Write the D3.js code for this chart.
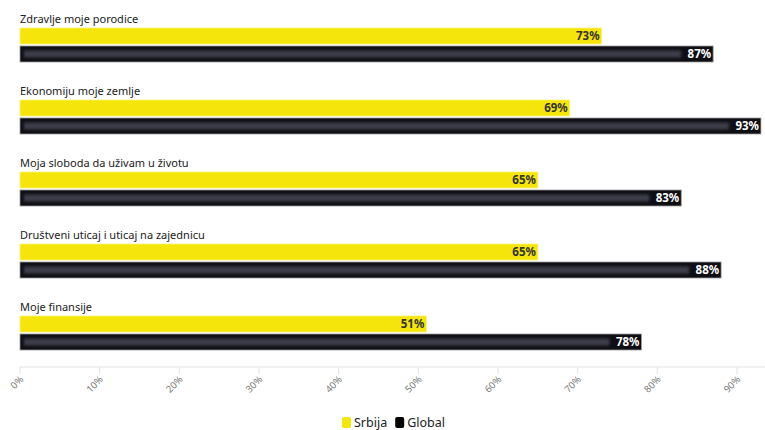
<!DOCTYPE html>
<html><head><meta charset="utf-8">
<script src="https://cdn.jsdelivr.net/npm/d3@7"></script>
<style>body{margin:0;background:#fff;font-family:"Noto Sans",sans-serif}</style>
</head><body><div id="chart"></div>
<script>
const categories = ["Zdravlje moje porodice","Ekonomiju moje zemlje","Moja sloboda da uživam u životu","Društveni uticaj i uticaj na zajednicu","Moje finansije"];
const srbija = [73,69,65,65,51];
const global = [87,93,83,88,78];
const ticks = [0,10,20,30,40,50,60,70,80,90];
const seriesNames = ["Srbija","Global"];
const colors = {Srbija:"#f5e50a", Global:"#0e0e14"};

const W=765,H=430;
const svg=d3.select("#chart").append("svg").attr("width",W).attr("height",H);
const defs=svg.append("defs");
const f=defs.append("filter").attr("id","blur").attr("x","-10%").attr("y","-50%").attr("width","120%").attr("height","200%");
f.append("feGaussianBlur").attr("stdDeviation",1.6);

const x=d3.scaleLinear().domain([0,100]).range([20,816.7]);
const y=d3.scaleBand().domain(categories).range([10,370]);
const barH=16;

const g=svg.append("g");
categories.forEach((c,i)=>{
  const y0=y(c);
  g.append("text").attr("x",20).attr("y",y0+13).attr("font-size",11).attr("fill","#222").text(c);
  // Srbija
  g.append("rect").attr("x",x(0)).attr("y",y0+18).attr("width",x(srbija[i])-x(0)).attr("height",barH)
    .attr("fill",colors.Srbija).attr("stroke","#fbf27a").attr("stroke-width",0.8);
  g.append("text").attr("x",x(srbija[i])-2).attr("y",y0+18+12).attr("text-anchor","end")
    .attr("font-size",11.5).attr("font-weight","bold").attr("fill","#333").text(srbija[i]+"%");
  // Global
  const gy=y0+36;
  g.append("rect").attr("x",x(0)).attr("y",gy).attr("width",x(global[i])-x(0)).attr("height",barH)
    .attr("fill",colors.Global).attr("stroke","#9a9a9a").attr("stroke-width",0.8);
  g.append("rect").attr("x",x(0)+4).attr("y",gy+4.5).attr("width",x(global[i])-x(0)-36).attr("height",barH-9)
    .attr("fill","#3c3c48").attr("filter","url(#blur)");
  g.append("text").attr("x",x(global[i])-2).attr("y",gy+12).attr("text-anchor","end")
    .attr("font-size",11.5).attr("font-weight","bold").attr("fill","#fff").text(global[i]+"%");
});

// axis
const axY=367;
const ax=svg.append("g");
ax.append("line").attr("x1",20).attr("x2",765).attr("y1",axY).attr("y2",axY).attr("stroke","#e3e3e3");
ticks.forEach(t=>{
  ax.append("line").attr("x1",x(t)).attr("x2",x(t)).attr("y1",axY).attr("y2",axY+7).attr("stroke","#e3e3e3");
  ax.append("text").attr("transform",`translate(${x(t)+4},${axY+13}) rotate(-45)`).attr("text-anchor","end")
    .attr("font-size",9.5).attr("fill","#777").text(t+"%");
});

// legend
const leg=svg.append("g");
let lx=342;
seriesNames.forEach(s=>{
  leg.append("rect").attr("x",lx).attr("y",417).attr("width",9).attr("height",11).attr("rx",2).attr("fill",s==="Global"?"#000":colors[s]);
  const t=leg.append("text").attr("x",lx+12).attr("y",427).attr("font-size",12.5).attr("fill","#222").text(s);
  lx+=12+t.node().getComputedTextLength()+8;
});
</script></body></html>
